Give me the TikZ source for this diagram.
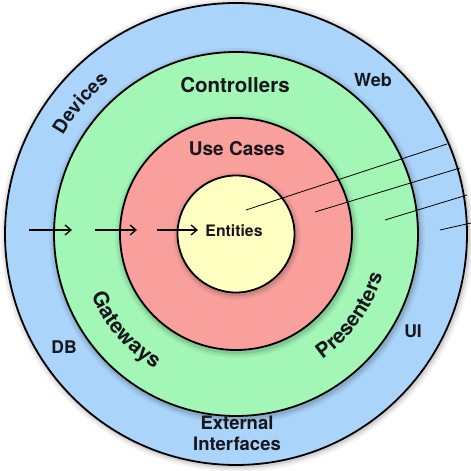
\documentclass[tikz,border=0pt]{standalone}
\usepackage{fontspec}
\setmainfont{TeX Gyre Heros}
\usetikzlibrary{arrows.meta,decorations.text}
\definecolor{ringblue}{RGB}{170,212,250}
\definecolor{ringgreen}{RGB}{162,246,182}
\definecolor{ringred}{RGB}{250,160,156}
\definecolor{ringyellow}{RGB}{255,255,194}
\definecolor{inkc}{RGB}{22,22,28}
\begin{document}
\begin{tikzpicture}[x=1pt,y=1pt,
  ring/.style={draw=black,line width=1.8pt},
  lbl/.style={text=inkc, inner sep=0pt},
  flow/.style={-{Straight Barb[length=6pt,width=10pt]}, line width=1.3pt, black},
  ptr/.style={line width=0.8pt, black},
  arclbl/.style={decorate, decoration={text along path, text align=center, text color=inkc}}]
\useasboundingbox (0,0) rectangle (471,471);
\coordinate (c) at (236,237);
% outer glow
\foreach \r/\o in {237/0.04,235/0.06,233/0.09}{\fill[black,opacity=\o] ([shift={(1,-1)}]c) circle (\r pt);}
\fill[ringblue] (c) circle (231pt);
\draw[ring] (c) circle (231pt);
% green
\foreach \r/\o in {188/0.04,186/0.06,184/0.09}{\fill[black,opacity=\o] ([shift={(1,-2)}]c) circle (\r pt);}
\fill[ringgreen] (c) circle (182pt);
\draw[ring] (c) circle (182pt);
% red
\foreach \r/\o in {122/0.04,120/0.06,118/0.09}{\fill[black,opacity=\o] ([shift={(1,-2)}]c) circle (\r pt);}
\fill[ringred] (c) circle (116pt);
\draw[ring] (c) circle (116pt);
% yellow
\foreach \r/\o in {64/0.04,62/0.06,60/0.09}{\fill[black,opacity=\o] ([shift={(1,-2)}]c) circle (\r pt);}
\fill[ringyellow] (c) circle (58.5pt);
\draw[ring] (c) circle (58.5pt);

% straight labels
\node[lbl,font=\bfseries\fontsize{20.5}{24}\selectfont] (controllers) at (235,386) {Controllers};
\node[lbl,font=\bfseries\fontsize{18}{22}\selectfont] (web) at (373,391) {Web};
\node[lbl,font=\bfseries\fontsize{19}{22}\selectfont] (usecases) at (237,322) {Use Cases};
\node[lbl,font=\bfseries\fontsize{15.8}{19}\selectfont] (entities) at (234,240) {Entities};
\node[lbl,font=\bfseries\fontsize{17.5}{21}\selectfont] (ui) at (413,140) {UI};
\node[lbl,font=\bfseries\fontsize{17.5}{21}\selectfont] (db) at (64,124) {DB};
\node[lbl,font=\bfseries\fontsize{18.5}{21}\selectfont] (external) at (237,48) {External};
\node[lbl,font=\bfseries\fontsize{18.5}{21}\selectfont] (interfaces) at (237,27) {Interfaces};

% curved labels
\path[arclbl, decoration={text={|\bfseries\fontsize{19}{22}\selectfont|Devices}}]
  ([shift={(170:199pt)}]c) arc[start angle=170, end angle=110, radius=199pt];
\path[arclbl, decoration={text={|\bfseries\fontsize{21}{24}\selectfont|Gateways}}]
  ([shift={(180:157pt)}]c) arc[start angle=180, end angle=262, radius=157pt];
\path[arclbl, decoration={text={|\bfseries\fontsize{20.5}{24}\selectfont|Presenters}}]
  ([shift={(284.6:152pt)}]c) arc[start angle=284.6, end angle=364.6, radius=152pt];

% flow arrows
\coordinate (f1s) at (29,241); \coordinate (f1e) at (72,241);
\coordinate (f2s) at (95,241); \coordinate (f2e) at (137,241);
\coordinate (f3s) at (157,241); \coordinate (f3e) at (198,241);
\draw[flow] (f1s) -- (f1e);
\draw[flow] (f2s) -- (f2e);
\draw[flow] (f3s) -- (f3e);

% pointer lines
\coordinate (p1s) at (246,261); \coordinate (p1e) at (447,327);
\coordinate (p2s) at (315,259); \coordinate (p2e) at (460,303);
\coordinate (p3s) at (385,251); \coordinate (p3e) at (467,276);
\coordinate (p4s) at (440,241); \coordinate (p4e) at (471,248);
\draw[ptr] (p1s) -- (p1e);
\draw[ptr] (p2s) -- (p2e);
\draw[ptr] (p3s) -- (p3e);
\draw[ptr] (p4s) -- (p4e);
\end{tikzpicture}
\end{document}
